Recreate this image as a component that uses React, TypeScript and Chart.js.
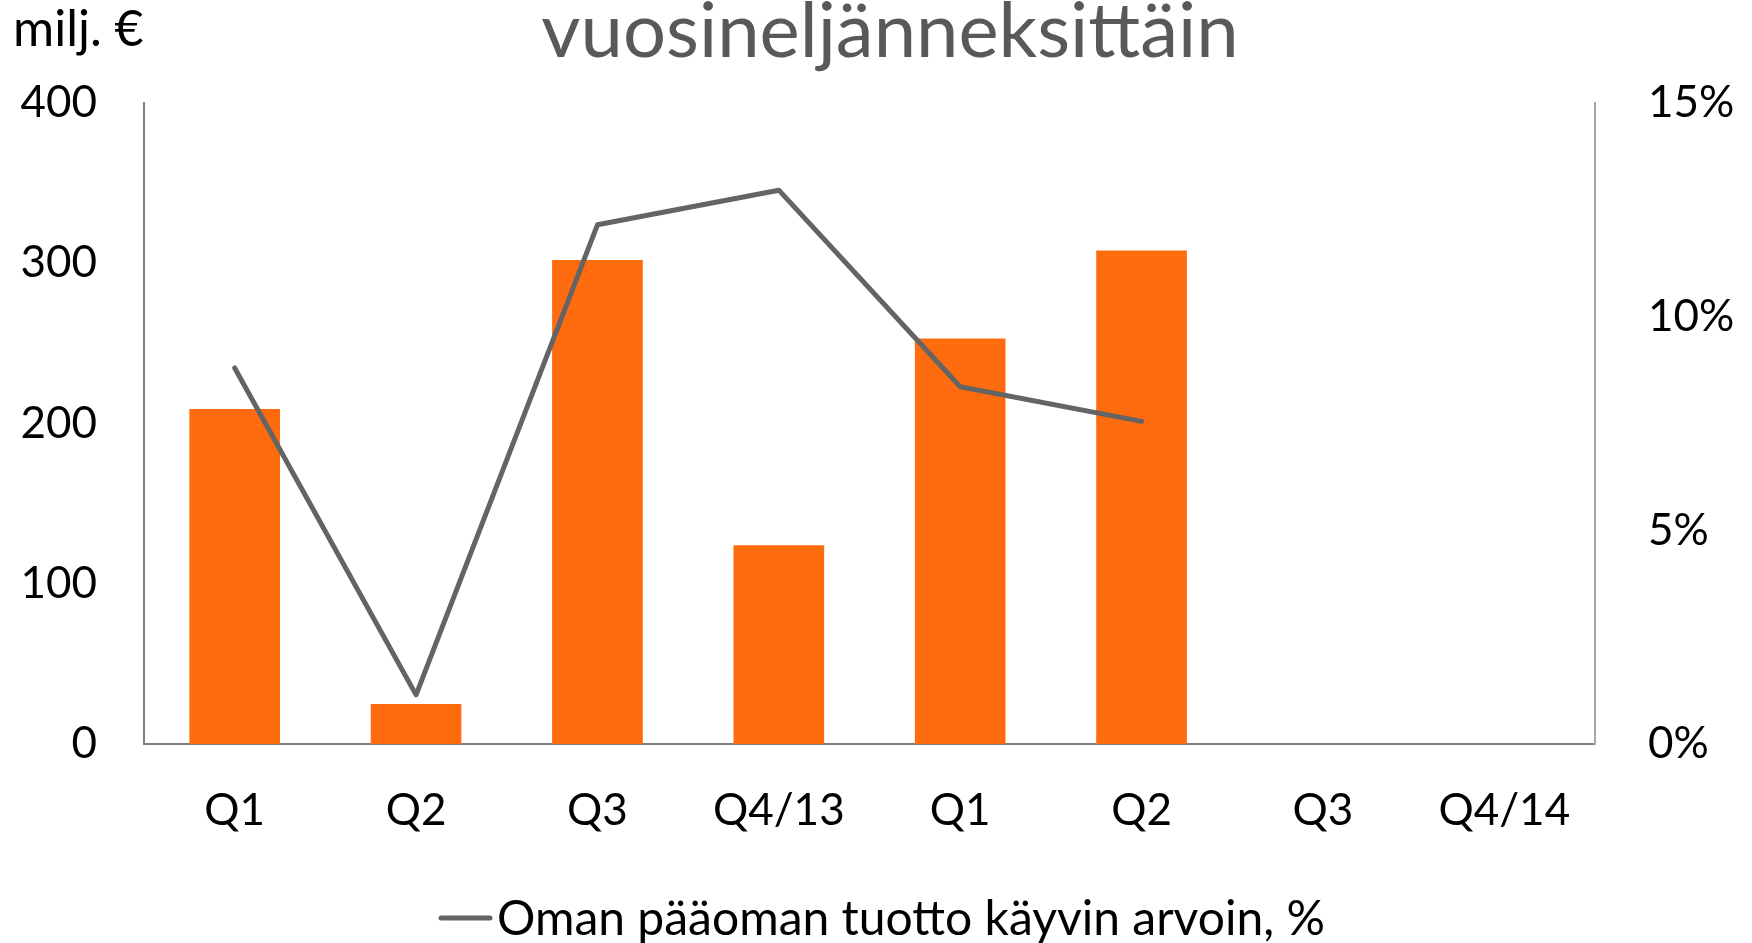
import React, { useEffect, useRef } from "react";
import { Chart, registerables } from "chart.js";

Chart.register(...registerables);

const categories = ["Q1", "Q2", "Q3", "Q4/13", "Q1", "Q2", "Q3", "Q4/14"];
const barValues = [209, 25, 302, 124, 253, 308, null, null];
const lineValues = [8.8, 1.15, 12.15, 12.96, 8.36, 7.55, null, null];
const leftTicks = [0, 100, 200, 300, 400];
const rightTicks = [0, 5, 10, 15];
const titleText = "vuosineljänneksittäin";
const unitText = "milj. €";
const lineLabel = "Oman pääoman tuotto käyvin arvoin, %";

const FONT = "Lato, 'Open Sans', sans-serif";

const textPlugin = {
  id: "texts",
  afterDraw(chart: any) {
    const ctx = chart.ctx;
    ctx.save();
    ctx.fillStyle = "#595959";
    ctx.font = `76px ${FONT}`;
    ctx.textAlign = "center";
    ctx.textBaseline = "alphabetic";
    ctx.fillText(titleText, 890, 57);

    ctx.fillStyle = "#000000";
    ctx.font = `50px ${FONT}`;
    ctx.textAlign = "left";
    ctx.fillText(unitText, 13, 46);

    // legend
    ctx.strokeStyle = "#646464";
    ctx.lineWidth = 5;
    ctx.lineCap = "round";
    ctx.beginPath();
    ctx.moveTo(441, 918);
    ctx.lineTo(490, 918);
    ctx.stroke();
    ctx.fillStyle = "#000000";
    ctx.font = `48px ${FONT}`;
    ctx.textBaseline = "middle";
    ctx.fillText(lineLabel, 497, 920);
    ctx.restore();
  },
};

export default function App() {
  const ref = useRef<HTMLCanvasElement>(null);
  useEffect(() => {
    const canvas = ref.current;
    if (!canvas) return;
    const chart = new Chart(canvas, {
      type: "bar",
      data: {
        labels: categories,
        datasets: [
          {
            type: "line",
            label: lineLabel,
            data: lineValues,
            yAxisID: "y1",
            borderColor: "#646464",
            borderWidth: 5,
            pointRadius: 0,
            tension: 0,
            fill: false,
            order: 0,
            borderJoinStyle: "round",
            borderCapStyle: "round",
          } as any,
          {
            type: "bar",
            label: "Tulos",
            data: barValues,
            yAxisID: "y",
            backgroundColor: "#FF6C10",
            categoryPercentage: 0.5,
            barPercentage: 1,
            order: 1,
          } as any,
        ],
      },
      options: {
        responsive: false,
        animation: false,
        devicePixelRatio: 1,
        layout: { padding: { top: 103, left: 0, right: 0, bottom: 0 } },
        plugins: {
          legend: { display: false },
          title: { display: false },
          tooltip: { enabled: false },
        },
        scales: {
          x: {
            grid: { display: false, drawTicks: false },
            border: { display: true, color: "#7f7f7f", width: 2 },
            ticks: {
              color: "#000000",
              font: { family: FONT, size: 44 },
              padding: 40,
              maxRotation: 0,
              autoSkip: false,
            },
            afterFit(scale: any) {
              scale.height = 199;
            },
          },
          y: {
            position: "left",
            min: 0,
            max: 400,
            afterBuildTicks(scale: any) {
              scale.ticks = leftTicks.map((v) => ({ value: v }));
            },
            grid: { display: false, drawTicks: false },
            border: { display: true, color: "#7f7f7f", width: 2 },
            ticks: {
              color: "#000000",
              font: { family: FONT, size: 44 },
              padding: 47,
            },
            afterFit(scale: any) {
              scale.width = 144;
            },
          },
          y1: {
            position: "right",
            min: 0,
            max: 15,
            afterBuildTicks(scale: any) {
              scale.ticks = rightTicks.map((v) => ({ value: v }));
            },
            grid: { display: false, drawTicks: false },
            border: { display: true, color: "#a6a6a6", width: 2 },
            ticks: {
              color: "#000000",
              font: { family: FONT, size: 44 },
              padding: 53,
              callback: (v: any) => `${v}%`,
            },
            afterFit(scale: any) {
              scale.width = 157;
            },
          },
        },
      } as any,
      plugins: [textPlugin],
    });
    return () => chart.destroy();
  }, []);
  return (
    <div style={{ position: "absolute", left: 0, top: 0, width: 1752, height: 943, background: "#fff" }}>
      <canvas ref={ref} width={1752} height={943} />
    </div>
  );
}
